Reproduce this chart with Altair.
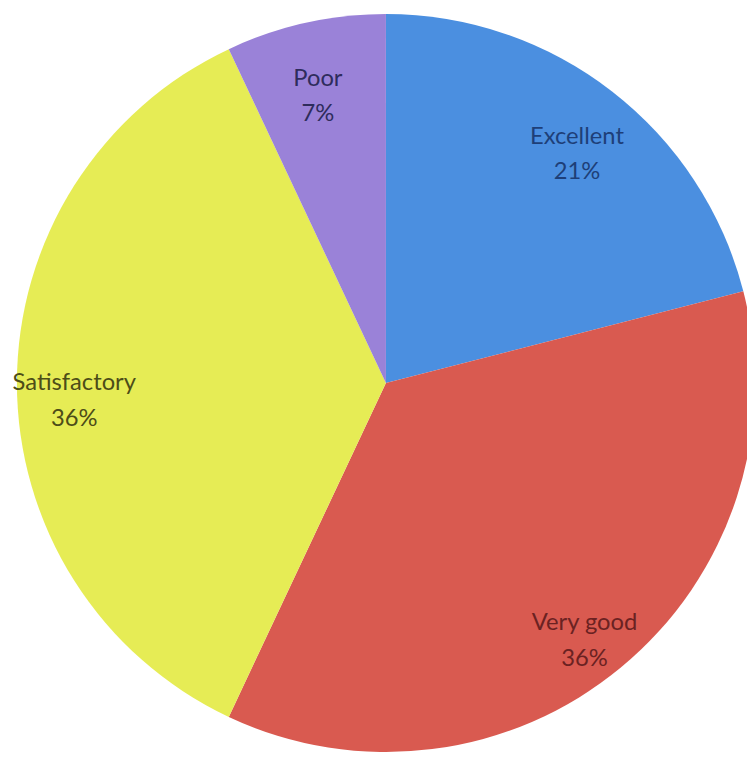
import altair as alt
import pandas as pd

categories = ["Excellent", "Very good", "Satisfactory", "Poor"]
values = [21, 36, 36, 7]
labels = ["21%", "36%", "36%", "7%"]
slice_colors = ["#4b8fe0", "#d95a50", "#e6ec55", "#9a82d8"]
text_colors = ["#1e3f78", "#6b2222", "#4d4d18", "#2e2c5c"]

df = pd.DataFrame({
    "category": categories,
    "value": values,
    "order": list(range(len(categories))),
    "label": [f"{c}\n{p}" for c, p in zip(categories, labels)],
})

cx, cy, R = 382, 375, 373

base = alt.Chart(df).encode(
    theta=alt.Theta("value:Q", stack=True),
    order=alt.Order("order:Q"),
)

pie = base.mark_arc(outerRadius=R, x=cx, y=cy).encode(
    color=alt.Color("category:N",
                    scale=alt.Scale(domain=categories, range=slice_colors),
                    legend=None)
)

text = base.mark_text(radius=315, x=cx, y=cy, fontSize=24, font="Lato",
                      lineBreak="\n", lineHeight=36, align="center",
                      baseline="middle").encode(
    text="label:N",
    color=alt.Color("category:N",
                    scale=alt.Scale(domain=categories, range=text_colors),
                    legend=None),
)

chart = alt.layer(pie, text).resolve_scale(color="independent").properties(
    width=747, height=755,
    padding={"left": 0, "top": 0, "right": 0, "bottom": 0},
    autosize=alt.AutoSizeParams(type="none"),
).configure_view(stroke=None).configure(background="white")

chart.save("out.html", embed_options={"renderer": "svg", "actions": False})
